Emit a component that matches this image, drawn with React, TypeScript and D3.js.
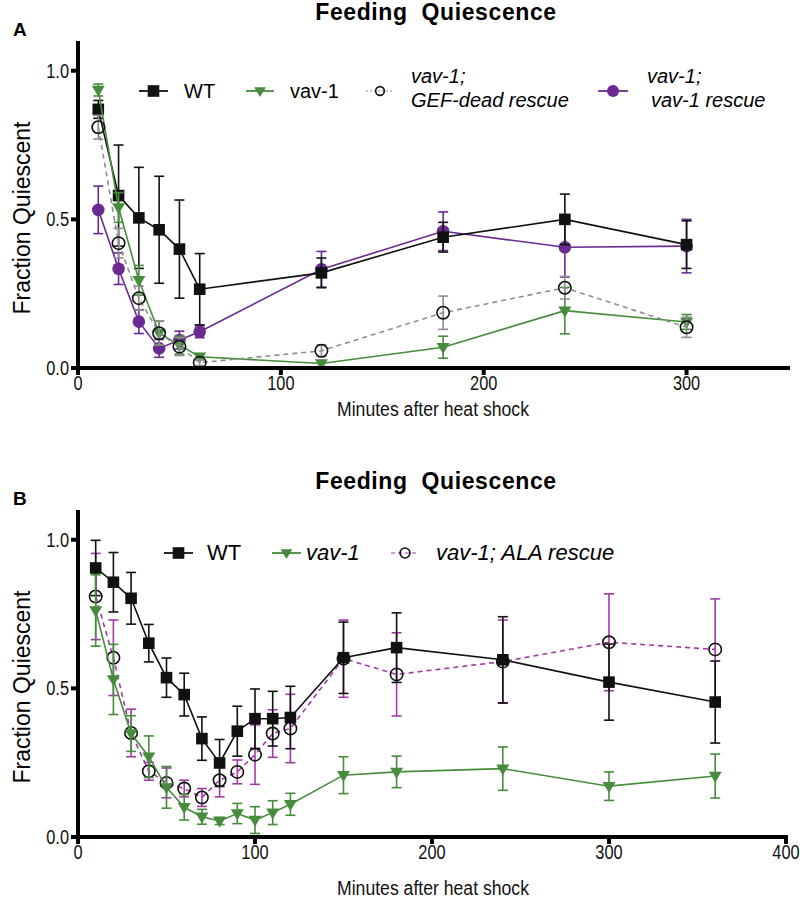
import React from "react";
import * as d3 from "d3";

// ---------- DATA ----------
const timesA = [10, 20, 30, 40, 50, 60, 120, 180, 240, 300];
const wtA = [0.87, 0.58, 0.505, 0.465, 0.4, 0.265, 0.32, 0.44, 0.5, 0.415];
const wtAErr = [0.03, 0.17, 0.17, 0.18, 0.165, 0.12, 0.05, 0.05, 0.085, 0.08];
const vavA = [0.935, 0.54, 0.295, 0.118, 0.077, 0.038, 0.015, 0.07, 0.193, 0.155];
const vavAErr = [0.02, 0.05, 0.05, 0.04, 0.03, 0.01, 0.01, 0.037, 0.078, 0.025];
const gefA = [0.81, 0.42, 0.235, 0.117, 0.072, 0.018, 0.058, 0.186, 0.27, 0.137];
const gefAErr = [0.04, 0.05, 0.04, 0.04, 0.03, 0.01, 0.02, 0.056, 0.038, 0.034];
const rescA = [0.532, 0.334, 0.156, 0.066, 0.094, 0.122, 0.332, 0.46, 0.406, 0.41];
const rescAErr = [0.08, 0.053, 0.04, 0.03, 0.03, 0.02, 0.06, 0.065, 0.1, 0.09];

const timesB = [10, 20, 30, 40, 50, 60, 70, 80, 90, 100, 110, 120, 150, 180, 240, 300, 360];
const wtB = [0.905, 0.857, 0.803, 0.652, 0.536, 0.479, 0.331, 0.249, 0.356, 0.398, 0.398, 0.402, 0.603, 0.637, 0.596, 0.521, 0.454];
const wtBErr = [0.093, 0.1, 0.087, 0.063, 0.066, 0.072, 0.073, 0.079, 0.084, 0.1, 0.092, 0.105, 0.12, 0.117, 0.145, 0.128, 0.138];
const vavB = [0.762, 0.53, 0.348, 0.27, 0.167, 0.1, 0.068, 0.054, 0.079, 0.057, 0.082, 0.11, 0.208, 0.219, 0.23, 0.171, 0.205];
const vavBErr = [0.12, 0.118, 0.06, 0.07, 0.07, 0.043, 0.025, 0.012, 0.034, 0.045, 0.04, 0.037, 0.062, 0.053, 0.073, 0.048, 0.074];
const alaB = [0.809, 0.603, 0.35, 0.221, 0.182, 0.163, 0.133, 0.191, 0.219, 0.277, 0.348, 0.365, 0.6, 0.547, 0.59, 0.655, 0.631];
const alaBErr = [0.145, 0.127, 0.08, 0.03, 0.05, 0.028, 0.03, 0.056, 0.04, 0.1, 0.08, 0.115, 0.13, 0.14, 0.14, 0.163, 0.17];

const yTicks = [0, 0.5, 1.0];
const xTicksA = [0, 100, 200, 300];
const xTicksB = [0, 100, 200, 300, 400];
const titleText = "Feeding  Quiescence";
const xLabel = "Minutes after heat shock";
const yLabel = "Fraction Quiescent";

// ---------- STYLE ----------
const FONT = "'Liberation Sans', Arial, Helvetica, sans-serif";
const GREEN = "#468c3c";
const PURPLE = "#6b2a92";
const GRAY = "#8e8e8e";
const MAGENTA = "#a23aa6";
const NARROW_SX = 0.84;

type MarkerType = "square" | "tri" | "circle" | "dot";
type Series = {
  times: number[];
  vals: number[];
  errs: number[];
  line: string;
  err: string;
  dash?: string;
  marker: MarkerType;
  mcolor: string;
};

function Marker({ type, x, y, color, s = 1 }: { type: MarkerType; x: number; y: number; color: string; s?: number }) {
  if (type === "square") {
    const h = 5.8 * s;
    return <rect x={x - h} y={y - h} width={2 * h} height={2 * h} fill={color} />;
  }
  if (type === "tri") {
    const w = 6.5 * s;
    const p = `M${x - w},${y - 4.2 * s}L${x + w},${y - 4.2 * s}L${x},${y + 6.8 * s}Z`;
    return <path d={p} fill={color} />;
  }
  if (type === "circle") {
    return <circle cx={x} cy={y} r={6.2 * s} fill="none" stroke={color} strokeWidth={1.6} />;
  }
  return <circle cx={x} cy={y} r={6.3 * s} fill={color} />;
}

function Narrow({ x, y, anchor, size, children }: { x: number; y: number; anchor: string; size: number; children: React.ReactNode }) {
  return (
    <text transform={`translate(${x},${y}) scale(${NARROW_SX},1)`} textAnchor={anchor} fontFamily={FONT} fontSize={size} fill="#111">
      {children}
    </text>
  );
}

type LegendItem = {
  marker: MarkerType;
  mcolor: string;
  line: string;
  dash?: string;
  x1: number;
  x2: number;
  y: number;
  ms: number;
  lines: { text: string; x: number; y: number }[];
  italic: boolean;
};

function Panel({
  top, xMax, xEnd, xTicks, series, legend, letter, legendSize, xLabelY,
}: {
  top: number; xMax: number; xEnd: number; xTicks: number[]; series: Series[]; legend: LegendItem[]; letter: string; legendSize: number; xLabelY: number;
}) {
  const x = d3.scaleLinear().domain([0, xMax]).range([78, xEnd]);
  const y = d3.scaleLinear().domain([0, 1.1]).range([top + 368, top + 41]);
  const y0 = y(0);
  return (
    <g>
      <text x={13} y={top + 36} fontFamily={FONT} fontWeight="bold" fontSize={19}>{letter}</text>
      <text x={436} y={top + 20} textAnchor="middle" fontFamily={FONT} fontWeight="bold" fontSize={23} letterSpacing={0.6} style={{ whiteSpace: "pre" }}>{titleText}</text>
      {/* y label */}
      <text transform={`translate(30,${top + 218}) rotate(-90)`} textAnchor="middle" fontFamily={FONT} fontSize={23}>{yLabel}</text>
      {/* series */}
      {series.map((s, si) => {
        const pts = s.times.map((t, i) => [x(t), y(s.vals[i])] as [number, number]);
        const line = d3.line()(pts) || "";
        return (
          <g key={si}>
            <path d={line} fill="none" stroke={s.line} strokeWidth={1.6} strokeDasharray={s.dash} />
            {s.times.map((t, i) => {
              const cx = x(t);
              const yt = y(s.vals[i] + s.errs[i]);
              const yb = y(Math.max(0, s.vals[i] - s.errs[i]));
              return (
                <g key={i} stroke={s.err} strokeWidth={1.6}>
                  <line x1={cx} x2={cx} y1={yt} y2={yb} />
                  <line x1={cx - 5} x2={cx + 5} y1={yt} y2={yt} />
                  <line x1={cx - 5} x2={cx + 5} y1={yb} y2={yb} />
                </g>
              );
            })}
            {s.times.map((t, i) => (
              <Marker key={"m" + i} type={s.marker} x={x(t)} y={y(s.vals[i])} color={s.mcolor} />
            ))}
          </g>
        );
      })}
      {/* axes */}
      <line x1={78} x2={78} y1={y(1.1)} y2={y0 + 2} stroke="#000" strokeWidth={4} />
      <line x1={76} x2={xEnd + 2} y1={y0} y2={y0} stroke="#000" strokeWidth={4} />
      {yTicks.map((v) => (
        <g key={v}>
          <line x1={71} x2={78} y1={y(v)} y2={y(v)} stroke="#000" strokeWidth={4} />
          <Narrow x={69} y={y(v) + 7} anchor="end" size={19.5}>{v.toFixed(1)}</Narrow>
        </g>
      ))}
      {xTicks.map((v) => (
        <g key={v}>
          <line x1={x(v)} x2={x(v)} y1={y0} y2={y0 + 7} stroke="#000" strokeWidth={4} />
          <Narrow x={x(v)} y={y0 + 22} anchor="middle" size={19.5}>{v}</Narrow>
        </g>
      ))}
      <Narrow x={433} y={top + xLabelY} anchor="middle" size={21}>{xLabel}</Narrow>
      {/* legend */}
      {legend.map((l, i) => (
        <g key={"l" + i}>
          <line x1={l.x1} x2={l.x2} y1={l.y} y2={l.y} stroke={l.line} strokeWidth={l.dash ? 1.2 : 1.8} strokeDasharray={l.dash} />
          <Marker type={l.marker} x={(l.x1 + l.x2) / 2} y={l.y} color={l.mcolor} s={l.ms} />
          {l.lines.map((t, j) => (
            <text key={j} x={t.x} y={t.y} fontFamily={FONT} fontSize={legendSize} fontStyle={l.italic ? "italic" : "normal"}>{t.text}</text>
          ))}
        </g>
      ))}
    </g>
  );
}

const seriesA: Series[] = [
  { times: timesA, vals: rescA, errs: rescAErr, line: PURPLE, err: PURPLE, marker: "dot", mcolor: PURPLE },
  { times: timesA, vals: wtA, errs: wtAErr, line: "#111", err: "#111", marker: "square", mcolor: "#111" },
  { times: timesA, vals: vavA, errs: vavAErr, line: GREEN, err: GREEN, marker: "tri", mcolor: GREEN },
  { times: timesA, vals: gefA, errs: gefAErr, line: GRAY, err: GRAY, dash: "5,4", marker: "circle", mcolor: "#111" },
];
const seriesB: Series[] = [
  { times: timesB, vals: alaB, errs: alaBErr, line: MAGENTA, err: MAGENTA, dash: "5,4", marker: "circle", mcolor: "#111" },
  { times: timesB, vals: wtB, errs: wtBErr, line: "#111", err: "#111", marker: "square", mcolor: "#111" },
  { times: timesB, vals: vavB, errs: vavBErr, line: GREEN, err: GREEN, marker: "tri", mcolor: GREEN },
];

const legendA: LegendItem[] = [
  { marker: "square", mcolor: "#111", line: "#111", x1: 139, x2: 168, y: 91, ms: 1, italic: false, lines: [{ text: "WT", x: 184, y: 98 }] },
  { marker: "tri", mcolor: GREEN, line: GREEN, x1: 246, x2: 274, y: 91, ms: 0.9, italic: false, lines: [{ text: "vav-1", x: 290, y: 98 }] },
  { marker: "circle", mcolor: "#111", line: GRAY, dash: "2,2", x1: 366, x2: 394, y: 91, ms: 0.7, italic: true, lines: [{ text: "vav-1;", x: 411, y: 83 }, { text: "GEF-dead rescue", x: 411, y: 107 }] },
  { marker: "dot", mcolor: PURPLE, line: PURPLE, x1: 598, x2: 628, y: 91, ms: 0.95, italic: true, lines: [{ text: "vav-1;", x: 647, y: 83 }, { text: "vav-1 rescue", x: 651, y: 107 }] },
];
const legendB: LegendItem[] = [
  { marker: "square", mcolor: "#111", line: "#111", x1: 164, x2: 193, y: 469 + 84, ms: 1, italic: false, lines: [{ text: "WT", x: 207, y: 469 + 91 }] },
  { marker: "tri", mcolor: GREEN, line: GREEN, x1: 272, x2: 301, y: 469 + 84, ms: 0.9, italic: true, lines: [{ text: "vav-1", x: 306, y: 469 + 91 }] },
  { marker: "circle", mcolor: "#111", line: MAGENTA, dash: "4,3", x1: 391, x2: 419, y: 469 + 84, ms: 0.8, italic: true, lines: [{ text: "vav-1; ALA rescue", x: 436, y: 469 + 91 }] },
];

export default function App() {
  return (
    <svg width={800} height={903} style={{ display: "block", position: "absolute", left: 0, top: 0, background: "#fff" }}>
      <rect x={0} y={0} width={800} height={903} fill="#fff" />
      <Panel top={0} xMax={350} xEnd={788} xTicks={xTicksA} series={seriesA} legend={legendA} letter="A" legendSize={20} xLabelY={416} />
      <Panel top={469} xMax={400} xEnd={786} xTicks={xTicksB} series={seriesB} legend={legendB} letter="B" legendSize={22} xLabelY={426} />
    </svg>
  );
}
